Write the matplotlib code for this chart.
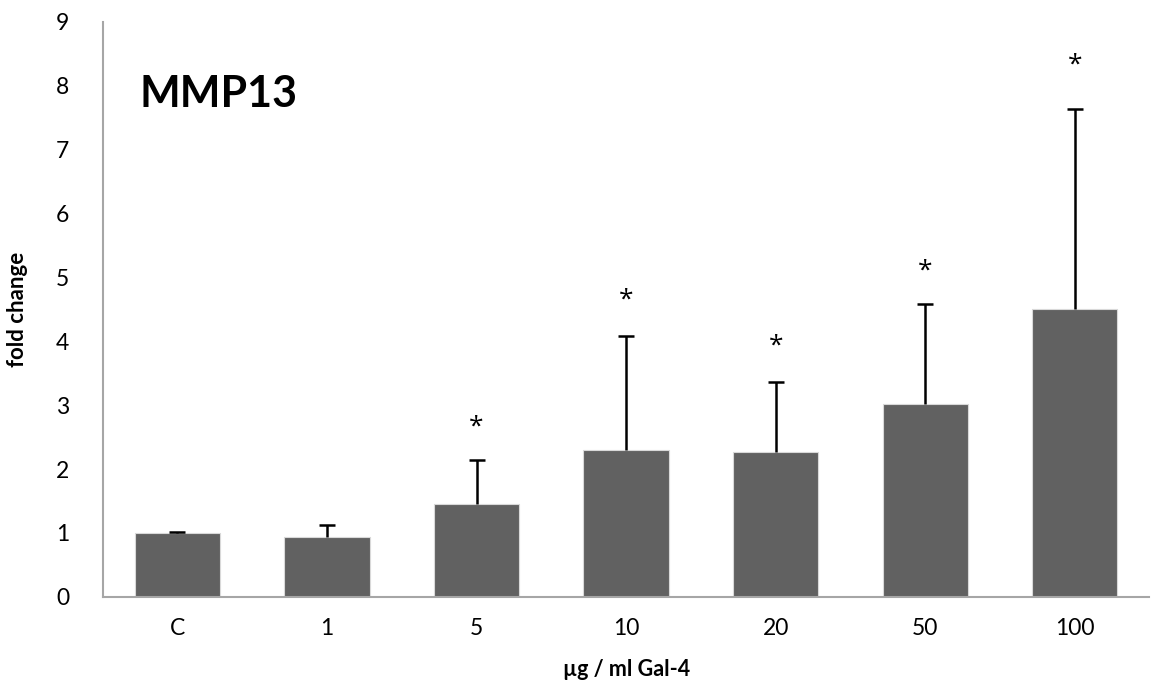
import matplotlib.pyplot as plt
import numpy as np

plt.rc('font', family='Lato')

# fold change of MMP13 expression per Gal-4 dose
doses = ["C", "1", "5", "10", "20", "50", "100"]
fold_change = [1.00, 0.93, 1.45, 2.30, 2.27, 3.02, 4.50]
sd_upper = [0.02, 0.19, 0.69, 1.79, 1.10, 1.56, 3.13]
significant = [False, False, True, True, True, True, True]
star_y = [None, None, 2.66, 4.64, 3.93, 5.10, 8.33]

fig = plt.figure(figsize=(11.67, 6.86), dpi=100)
ax = fig.add_axes([0.088, 0.130, 0.897, 0.838])

x = np.arange(len(doses))
ax.bar(x, fold_change, width=0.57, color="#616161", edgecolor="#d9d9d9", linewidth=0.8, zorder=2)
_, caps, _ = ax.errorbar(x, fold_change, yerr=[np.zeros(len(x)), sd_upper], fmt='none',
                         ecolor="black", elinewidth=1.8, capsize=6, capthick=1.8, zorder=3)
# only the upper whisker gets a cap
caps[0].set_visible(False)

for xi, sig, sy in zip(x, significant, star_y):
    if sig:
        ax.text(xi, sy, "*", ha="center", va="center", fontsize=19, family="Open Sans")

ax.text(0.035, 0.875, "MMP13", transform=ax.transAxes, fontsize=31,
        fontweight="bold", ha="left", va="center")

ax.set_xlim(-0.5, len(doses) - 0.5)
ax.set_ylim(0, 9)
ax.set_yticks(range(0, 10))
ax.set_xticks(x)
ax.set_xticklabels(doses)
ax.tick_params(axis="both", length=0, labelsize=16.5)
ax.tick_params(axis="x", pad=15)
ax.tick_params(axis="y", pad=24)

ax.set_xlabel("µg / ml Gal-4", fontsize=15.5, fontweight="bold", labelpad=15)
ax.set_ylabel("fold change", fontsize=16, fontweight="bold", labelpad=20)

for side in ["top", "right"]:
    ax.spines[side].set_visible(False)
for side in ["left", "bottom"]:
    ax.spines[side].set_color("#a6a6a6")
    ax.spines[side].set_linewidth(1.5)

plt.savefig("out.png")
